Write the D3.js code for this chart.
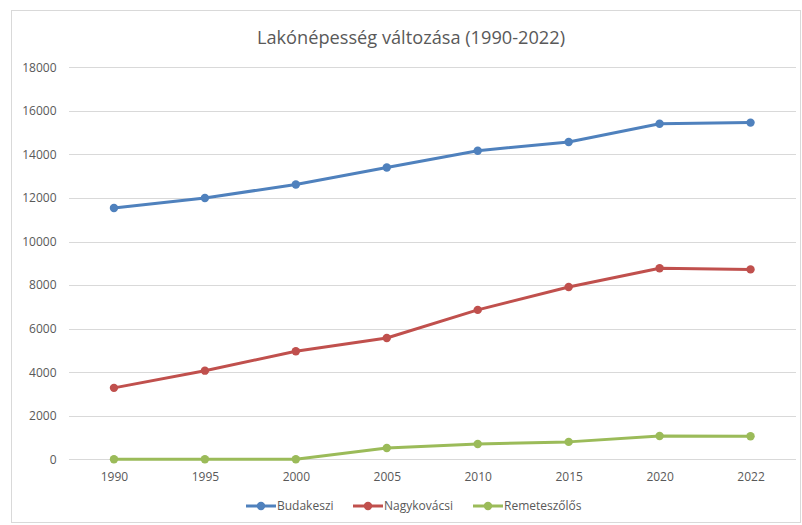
<!DOCTYPE html>
<html>
<head>
<meta charset="utf-8">
<script src="https://cdn.jsdelivr.net/npm/d3@7"></script>
<style>
  html, body { margin: 0; padding: 0; background: #fff; }
  svg { display: block; }
  text { font-family: "Open Sans", "Noto Sans", sans-serif; fill: #595959; }
</style>
</head>
<body>
<svg id="chart" width="802" height="525"></svg>
<script>
// Lakónépesség (population) by year for three settlements
const years = ["1990", "1995", "2000", "2005", "2010", "2015", "2020", "2022"];
const budakeszi = [11540, 12000, 12620, 13400, 14170, 14570, 15410, 15460];
const nagykovacsi = [3280, 4070, 4960, 5570, 6860, 7910, 8770, 8720];
const remeteszolos = [0, 0, 0, 520, 700, 800, 1070, 1060];
const seriesNames = ["Budakeszi", "Nagykovácsi", "Remeteszőlős"];
const seriesColors = ["#4F81BD", "#C0504D", "#9BBB59"];
const yTicks = [0, 2000, 4000, 6000, 8000, 10000, 12000, 14000, 16000, 18000];
const title = "Lakónépesség változása (1990-2022)";

const series = [budakeszi, nagykovacsi, remeteszolos].map((vals, i) => ({
  name: seriesNames[i], color: seriesColors[i], values: vals
}));

const svg = d3.select("#chart");

// chart frame
svg.append("rect")
  .attr("x", 11.5).attr("y", 10.5)
  .attr("width", 789).attr("height", 512)
  .attr("fill", "#fff").attr("stroke", "#D9D9D9").attr("stroke-width", 1);

const plot = { left: 68.5, right: 796, top: 67.3, bottom: 459.3 };

const x = d3.scalePoint().domain(years).range([plot.left, plot.right]).padding(0.5);
const y = d3.scaleLinear().domain([0, 18000]).range([plot.bottom, plot.top]);

// title
svg.append("text")
  .attr("x", 411).attr("y", 44)
  .attr("text-anchor", "middle")
  .style("font-size", "18.2px")
  .text(title);

// horizontal gridlines + y labels
const yAxis = d3.axisLeft(y).tickValues(yTicks).tickSize(-(plot.right - plot.left))
  .tickPadding(12).tickFormat(d3.format("d"));
const gy = svg.append("g").attr("transform", `translate(${plot.left},0)`).call(yAxis);
gy.select(".domain").remove();
gy.selectAll(".tick line").attr("stroke", "#D9D9D9").attr("stroke-width", 1)
  .attr("shape-rendering", "crispEdges");
gy.selectAll(".tick text").style("font-size", "12px").style("fill", "#595959")
  .style("font-family", '"Open Sans", sans-serif');

// x labels
const xAxis = d3.axisBottom(x).tickSize(0).tickPadding(13);
const gx = svg.append("g").attr("transform", `translate(0,${plot.bottom})`).call(xAxis);
gx.select(".domain").remove();
gx.selectAll(".tick text").style("font-size", "12px").style("fill", "#595959")
  .style("font-family", '"Open Sans", sans-serif');

// lines and markers
const line = d3.line().x((d, i) => x(years[i])).y(d => y(d));
const g = svg.append("g");
series.forEach(s => {
  g.append("path")
    .attr("d", line(s.values))
    .attr("fill", "none")
    .attr("stroke", s.color)
    .attr("stroke-width", 3)
    .attr("stroke-linejoin", "round")
    .attr("stroke-linecap", "round");
  g.selectAll(null).data(s.values).enter().append("circle")
    .attr("cx", (d, i) => x(years[i]))
    .attr("cy", d => y(d))
    .attr("r", 4.2)
    .attr("fill", s.color);
});

// legend
const legendY = 506;
const legendX = [246, 353, 473];
series.forEach((s, i) => {
  const lg = svg.append("g").attr("transform", `translate(${legendX[i]},${legendY})`);
  lg.append("line").attr("x1", 0).attr("x2", 30).attr("y1", 0).attr("y2", 0)
    .attr("stroke", s.color).attr("stroke-width", 3);
  lg.append("circle").attr("cx", 15).attr("cy", 0).attr("r", 4.2).attr("fill", s.color);
  lg.append("text").attr("x", 31).attr("y", 0).attr("dy", "0.35em")
    .style("font-size", "12px").text(s.name);
});
</script>
</body>
</html>
